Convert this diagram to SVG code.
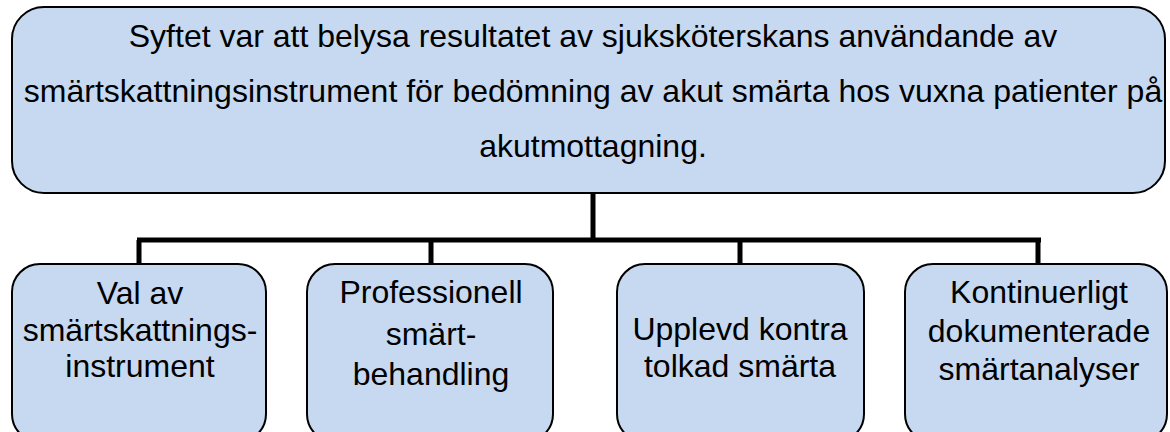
<svg xmlns="http://www.w3.org/2000/svg" width="1170" height="432" viewBox="0 0 1170 432">
<style>
.box{fill:#c6d9f1;stroke:#000;stroke-width:2}
.t{font-family:"Liberation Sans",Arial,sans-serif;fill:#000;text-anchor:middle}
.top{font-size:32px}
.sub{font-size:32px}
.conn{fill:none;stroke:#000;stroke-width:5}
</style>
<rect width="1170" height="432" fill="#fff"/>
<g id="connectors">
<path class="conn" d="M593 193 V240"/>
<path class="conn" d="M137 240 H1041"/>
<path class="conn" d="M139 240 V264 M431 240 V264 M740 240 V264 M1038 240 V264"/>
</g>
<g id="root">
<rect class="box" x="12" y="7" width="1153" height="186" rx="32" ry="32"/>
<text class="t top" x="593" y="47">Syftet var att belysa resultatet av sjuksköterskans användande av</text>
<text class="t top" x="593" y="102">smärtskattningsinstrument för bedömning av akut smärta hos vuxna patienter på</text>
<text class="t top" x="593" y="157">akutmottagning.</text>
</g>
<g id="n1">
<rect class="box" x="12" y="264" width="254" height="178" rx="28" ry="28"/>
<text class="t sub" x="140" y="304">Val av</text>
<text class="t sub" x="140" y="341">smärtskattnings-</text>
<text class="t sub" x="140" y="377">instrument</text>
</g>
<g id="n2">
<rect class="box" x="307" y="264" width="246" height="178" rx="28" ry="28"/>
<text class="t sub" x="431" y="303">Professionell</text>
<text class="t sub" x="431" y="345">smärt-</text>
<text class="t sub" x="431" y="385">behandling</text>
</g>
<g id="n3">
<rect class="box" x="617" y="264" width="247" height="178" rx="28" ry="28"/>
<text class="t sub" x="740" y="340">Upplevd kontra</text>
<text class="t sub" x="740" y="377">tolkad smärta</text>
</g>
<g id="n4">
<rect class="box" x="905" y="264" width="262" height="178" rx="28" ry="28"/>
<text class="t sub" x="1039" y="303">Kontinuerligt</text>
<text class="t sub" x="1039" y="342">dokumenterade</text>
<text class="t sub" x="1039" y="380">smärtanalyser</text>
</g>
</svg>
